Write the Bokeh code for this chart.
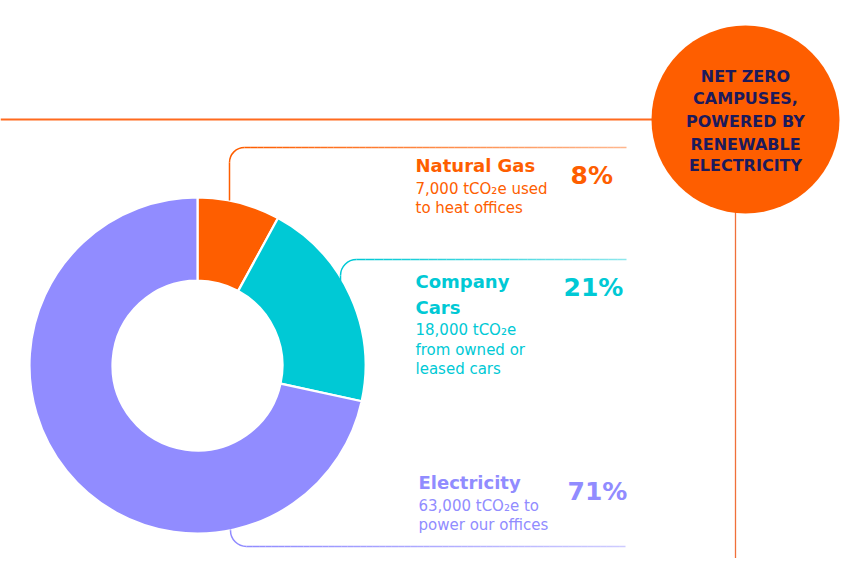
import numpy as np
from bokeh.plotting import figure
from bokeh.models import Range1d, ColumnDataSource
from bokeh.core.properties import value
from bokeh.embed import file_html
from bokeh.resources import INLINE

# ---------------- data ----------------
categories = ["Natural Gas", "Company Cars", "Electricity"]
tonnes = [7000, 18000, 63000]
shares = ["8%", "21%", "71%"]
title_lines = [["Natural Gas"], ["Company", "Cars"], ["Electricity"]]
desc_lines = [
    ["7,000 tCO\u2082e used", "to heat offices"],
    ["18,000 tCO\u2082e", "from owned or", "leased cars"],
    ["63,000 tCO\u2082e to", "power our offices"],
]
badge_lines = ["NET ZERO", "CAMPUSES,", "POWERED BY", "RENEWABLE", "ELECTRICITY"]
colors = ["#FE5E00", "#00C9D5", "#918CFF"]

# ---------------- layout (screen pixels) ----------------
W, H = 843, 558
def Y(sy):
    return 574 - sy

FONT = value("DejaVu Sans")
text_x = [415, 415, 418]
share_x = [570, 563, 567]
title_y = [[165], [281, 307], [481.5]]
desc_y = [[188.5, 207], [329, 349, 368], [505, 524]]
share_y = [175, 287, 491]

p = figure(width=W, height=H, x_range=Range1d(0, W), y_range=Range1d(574 - H, 574),
           output_backend="svg", toolbar_location=None,
           x_axis_type=None, y_axis_type=None, min_border=0,
           outline_line_color=None, background_fill_color="white")
p.xgrid.visible = False
p.ygrid.visible = False

# ---------------- donut ----------------
cx, cy, R, r_in = 197, Y(365), 168, 85
total = float(sum(tonnes))
cum = np.cumsum([0] + tonnes) / total
src = ColumnDataSource(dict(
    start=np.pi / 2 - 2 * np.pi * cum[:-1],
    end=np.pi / 2 - 2 * np.pi * cum[1:],
    color=colors, cat=categories))
p.annular_wedge(x=cx, y=cy, inner_radius=r_in, outer_radius=R,
                start_angle="start", end_angle="end", direction="clock",
                fill_color="color", line_color="white", line_width=2.2, source=src)

# ---------------- connectors ----------------
def gradient_hline(x0, x1, y, color, n=60, a0=1.0, a1=0.45, width=1.5):
    xs = np.linspace(x0, x1, n + 1)
    alphas = np.linspace(a0, a1, n)
    p.segment(x0=xs[:-1], y0=[y] * n, x1=xs[1:], y1=[y] * n,
              line_color=color, line_alpha=alphas, line_width=width)

def vseg(x, y0, y1, color, width=1.5):
    p.segment(x0=[x], y0=[y0], x1=[x], y1=[y1], line_color=color, line_width=width)

# Natural gas (corner going up then right)
r = 15
vseg(229, Y(200), Y(147 + r), colors[0])
p.arc(x=229 + r, y=Y(147 + r), radius=r, start_angle=np.pi / 2, end_angle=np.pi,
      direction="anticlock", line_color=colors[0], line_width=1.5)
gradient_hline(229 + r, 626, Y(147), colors[0])

# Company cars
r = 16
vseg(340, Y(281), Y(259 + r), colors[1])
p.arc(x=340 + r, y=Y(259 + r), radius=r, start_angle=np.pi / 2, end_angle=np.pi,
      direction="anticlock", line_color=colors[1], line_width=1.5)
gradient_hline(340 + r, 626, Y(259), colors[1])

# Electricity (bottom)
r = 16
vseg(230, Y(529), Y(546 - r), colors[2])
p.arc(x=230 + r, y=Y(546 - r), radius=r, start_angle=np.pi, end_angle=1.5 * np.pi,
      direction="anticlock", line_color=colors[2], line_width=1.5)
gradient_hline(230 + r, 625, Y(546), colors[2])

# ---------------- badge ----------------
p.segment(x0=[0], y0=[Y(119)], x1=[700], y1=[Y(119)], line_color="#FF6A1E", line_width=2)
p.segment(x0=[735], y0=[Y(200)], x1=[735], y1=[Y(574)], line_color="#F0703A", line_width=1.3)
p.circle(x=[745], y=[Y(119)], radius=94, fill_color="#FE5E00", line_color=None)
badge_y = [76, 98, 121, 143.5, 165]
p.text(x=[745] * len(badge_lines), y=[Y(v) for v in badge_y], text=badge_lines,
       text_font=FONT, text_font_style="bold", text_font_size="16px",
       text_color="#1B1A5C", text_align="center", text_baseline="middle")

# ---------------- labels ----------------
for i in range(len(categories)):
    p.text(x=[text_x[i]] * len(title_lines[i]), y=[Y(v) for v in title_y[i]],
           text=title_lines[i], text_font=FONT, text_font_style="bold",
           text_font_size="18px", text_color=colors[i],
           text_align="left", text_baseline="middle")
    p.text(x=[text_x[i]] * len(desc_lines[i]), y=[Y(v) for v in desc_y[i]],
           text=desc_lines[i], text_font=FONT, text_font_size="15px",
           text_color=colors[i], text_align="left", text_baseline="middle")
    p.text(x=[share_x[i]], y=[Y(share_y[i])], text=[shares[i]], text_font=FONT,
           text_font_style="bold", text_font_size="25px", text_color=colors[i],
           text_align="left", text_baseline="middle")

open("out.html", "w").write(file_html(p, INLINE))
